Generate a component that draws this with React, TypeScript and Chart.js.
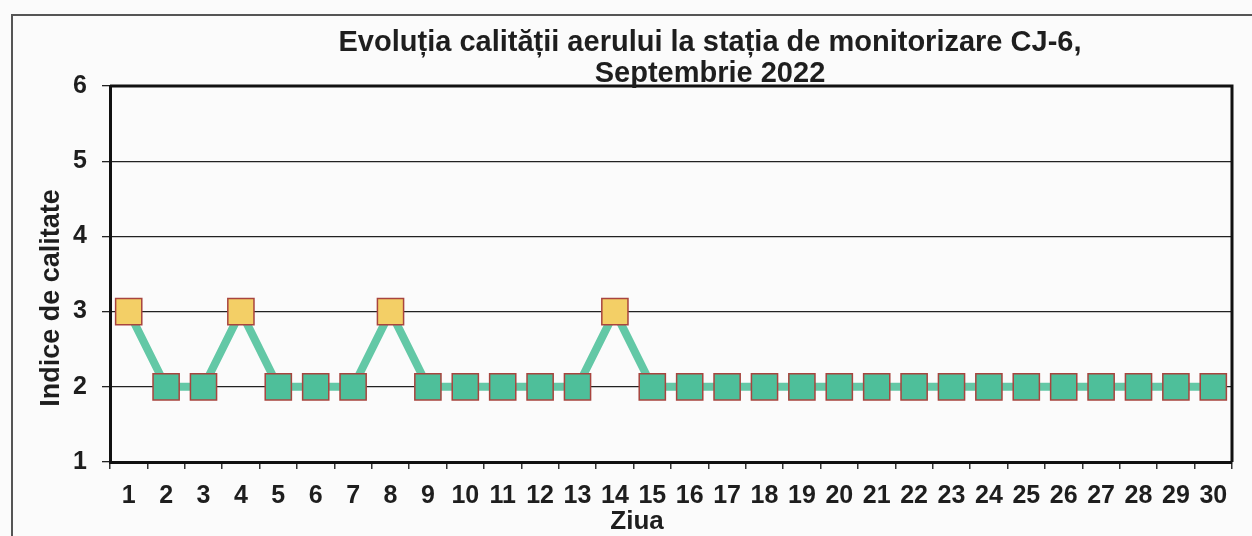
import React, { useEffect, useRef } from "react";
import { Chart, registerables } from "chart.js";

Chart.register(...registerables);

const days = ["1","2","3","4","5","6","7","8","9","10","11","12","13","14","15","16","17","18","19","20","21","22","23","24","25","26","27","28","29","30"];
const qualityIndex = [3,2,2,3,2,2,2,3,2,2,2,2,2,3,2,2,2,2,2,2,2,2,2,2,2,2,2,2,2,2];
const yTicks = [1, 2, 3, 4, 5, 6];
const titleLines = ["Evoluția calității aerului la stația de monitorizare CJ-6,", "Septembrie 2022"];
const xTitle = "Ziua";
const yTitle = "Indice de calitate";

const FONT = '"Liberation Sans", Arial, sans-serif';
const YELLOW = "#f3cf66";
const TEAL = "#4ebf9a";
const LINE = "#63c8a6";
const MARK_BORDER = "#a8443e";

const textPlugin = {
  id: "customText",
  afterDatasetsDraw(chart: any) {
    const { ctx, chartArea } = chart;
    ctx.save();
    ctx.strokeStyle = "#111";
    ctx.lineWidth = 3;
    ctx.beginPath();
    ctx.moveTo(chartArea.left, chartArea.top);
    ctx.lineTo(chartArea.right, chartArea.top);
    ctx.lineTo(chartArea.right, chartArea.bottom);
    ctx.stroke();
    ctx.restore();
  },
  afterDraw(chart: any) {
    const { ctx } = chart;
    ctx.save();
    ctx.fillStyle = "#1e1e1e";
    ctx.textAlign = "center";
    ctx.textBaseline = "alphabetic";
    ctx.font = `bold 29px ${FONT}`;
    ctx.fillText(titleLines[0], 710, 51);
    ctx.fillText(titleLines[1], 710, 82);
    ctx.font = `bold 26px ${FONT}`;
    ctx.fillText(xTitle, 637, 529);
    ctx.translate(59, 298);
    ctx.rotate(-Math.PI / 2);
    ctx.font = `bold 27px ${FONT}`;
    ctx.fillText(yTitle, 0, 0);
    ctx.restore();
  },
};

export default function App() {
  const ref = useRef<HTMLCanvasElement>(null);
  useEffect(() => {
    if (!ref.current) return;
    const chart = new Chart(ref.current, {
      type: "line",
      data: {
        labels: days,
        datasets: [
          {
            data: qualityIndex,
            borderColor: LINE,
            borderWidth: 8,
            tension: 0,
            pointStyle: "rect",
            pointRadius: 18.5,
            pointHoverRadius: 18.5,
            pointBackgroundColor: (c: any) => (qualityIndex[c.dataIndex] >= 3 ? YELLOW : TEAL),
            pointBorderColor: MARK_BORDER,
            pointBorderWidth: 1.5,
          },
        ],
      },
      options: {
        animation: false,
        responsive: false,
        maintainAspectRatio: false,
        layout: { padding: { top: 86, right: 19, left: 0, bottom: 0 } },
        plugins: { legend: { display: false }, tooltip: { enabled: false }, title: { display: false } },
        scales: {
          x: {
            type: "category",
            offset: true,
            afterFit: (s: any) => { s.height = 74; },
            grid: { offset: true, drawOnChartArea: false, drawTicks: true, tickLength: 7, color: "#333", lineWidth: 1.5 },
            border: { display: true, width: 3, color: "#111" },
            ticks: { color: "#1e1e1e", font: { family: FONT, size: 25, weight: "bold" }, padding: 12, maxRotation: 0, autoSkip: false },
          },
          y: {
            min: yTicks[0],
            max: yTicks[yTicks.length - 1],
            afterFit: (s: any) => { s.width = 110; },
            grid: { color: "#222", lineWidth: 1.3, tickLength: 8, drawTicks: true },
            border: { display: true, width: 3, color: "#111" },
            ticks: { stepSize: 1, color: "#1e1e1e", font: { family: FONT, size: 25, weight: "bold" }, padding: 15 },
          },
        },
      },
      plugins: [textPlugin],
    });
    return () => chart.destroy();
  }, []);
  return (
    <div style={{ position: "fixed", left: 0, top: 0, width: 1252, height: 536, overflow: "hidden", background: "#fbfbfb" }}>
      <div style={{ position: "absolute", left: 11, top: 14, width: 1400, height: 700, border: "2px solid #555" }} />
      <canvas ref={ref} width={1252} height={536} style={{ position: "absolute", left: 0, top: 0, width: 1252, height: 536 }} />
    </div>
  );
}
